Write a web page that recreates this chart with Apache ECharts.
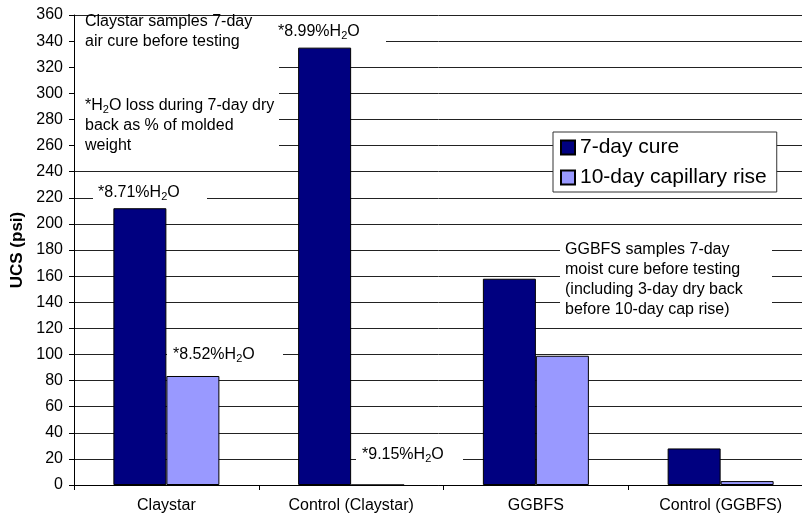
<!DOCTYPE html>
<html>
<head>
<meta charset="utf-8">
<script src="https://cdn.jsdelivr.net/npm/echarts@6/dist/echarts.min.js"></script>
<style>html,body{margin:0;padding:0;background:#fff}#c{width:802px;height:516px}</style>
</head>
<body>
<div id="c"></div>
<script>
var categories = ['Claystar', 'Control (Claystar)', 'GGBFS', 'Control (GGBFS)'];
var cure7 = [212, 335, 158, 28];
var capRise10 = [83.5, 0, 99, 3];
var seriesNames = ['7-day cure', '10-day capillary rise'];
var yName = 'UCS (psi)';
var yMin = 0, yMax = 360, yStep = 20;

var FF = '"Liberation Sans", Arial, sans-serif';
var subRich = { s: { fontSize: 11, fontFamily: FF, padding: [8, 0, 0, 0] } };

function txt(x, y, text) {
  return {
    type: 'text', x: x, y: y, z: 101,
    style: {
      text: text, fontSize: 16, fontFamily: FF, fill: '#000',
      verticalAlign: 'middle', lineHeight: 20, rich: subRich
    }
  };
}
function box(x, y, w, h) {
  return { type: 'rect', z: 100, shape: { x: x, y: y, width: w, height: h }, style: { fill: '#fff' } };
}

var chart = echarts.init(document.getElementById('c'), null, { renderer: 'canvas' });
chart.setOption({
  animation: false,
  backgroundColor: '#fff',
  textStyle: { fontFamily: FF },
  grid: { left: 74, top: 15, bottom: 31, width: 739, containLabel: false, outerBoundsMode: 'none' },
  legend: {
    data: seriesNames,
    orient: 'vertical',
    left: 553, top: 132,
    backgroundColor: '#fff',
    borderColor: '#333', borderWidth: 1,
    padding: [5, 10, 4, 7],
    itemWidth: 14, itemHeight: 14, itemGap: 9,
    icon: 'rect',
    textStyle: { fontSize: 21, fontFamily: FF, color: '#000' },
    z: 102
  },
  xAxis: {
    type: 'category',
    data: categories,
    axisLine: { lineStyle: { color: '#000', width: 1 } },
    axisTick: { show: true, length: 5, lineStyle: { color: '#000' } },
    axisLabel: { fontSize: 16, color: '#000', margin: 13, fontFamily: FF }
  },
  yAxis: {
    type: 'value', min: yMin, max: yMax, interval: yStep,
    name: yName, nameLocation: 'middle', nameGap: 46,
    nameTextStyle: { fontSize: 17, fontWeight: 'bold', color: '#000', fontFamily: FF },
    axisLine: { show: true, lineStyle: { color: '#000' } },
    axisTick: { show: true, length: 5, lineStyle: { color: '#000' } },
    axisLabel: { fontSize: 16, color: '#000', margin: 11, fontFamily: FF },
    splitLine: { show: true, lineStyle: { color: '#222', width: 1 } }
  },
  series: [
    {
      name: seriesNames[0], type: 'bar', data: cure7,
      barWidth: 53, barGap: '0%',
      itemStyle: { color: '#000080', borderColor: '#000', borderWidth: 1 }
    },
    {
      name: seriesNames[1], type: 'bar', data: capRise10,
      barWidth: 53, barGap: '0%',
      itemStyle: { color: '#9999FF', borderColor: '#000', borderWidth: 1 }
    }
  ],
  graphic: [
    box(75, 17, 204, 141),
    box(277, 17, 109, 28),
    box(93, 182, 114, 24),
    box(167, 343, 116, 23),
    box(356, 445, 107, 23),
    box(560, 239, 212, 81),
    txt(85, 32, 'Claystar samples 7-day\nair cure before testing'),
    txt(85, 126, '*H{s|2}O loss during 7-day dry\nback as % of molded\nweight'),
    txt(278, 32, '*8.99%H{s|2}O'),
    txt(98, 193, '*8.71%H{s|2}O'),
    txt(173, 355, '*8.52%H{s|2}O'),
    txt(362, 455, '*9.15%H{s|2}O'),
    txt(565, 280, 'GGBFS samples 7-day\nmoist cure before testing\n(including 3-day dry back\nbefore 10-day cap rise)')
  ]
});
</script>
</body>
</html>
